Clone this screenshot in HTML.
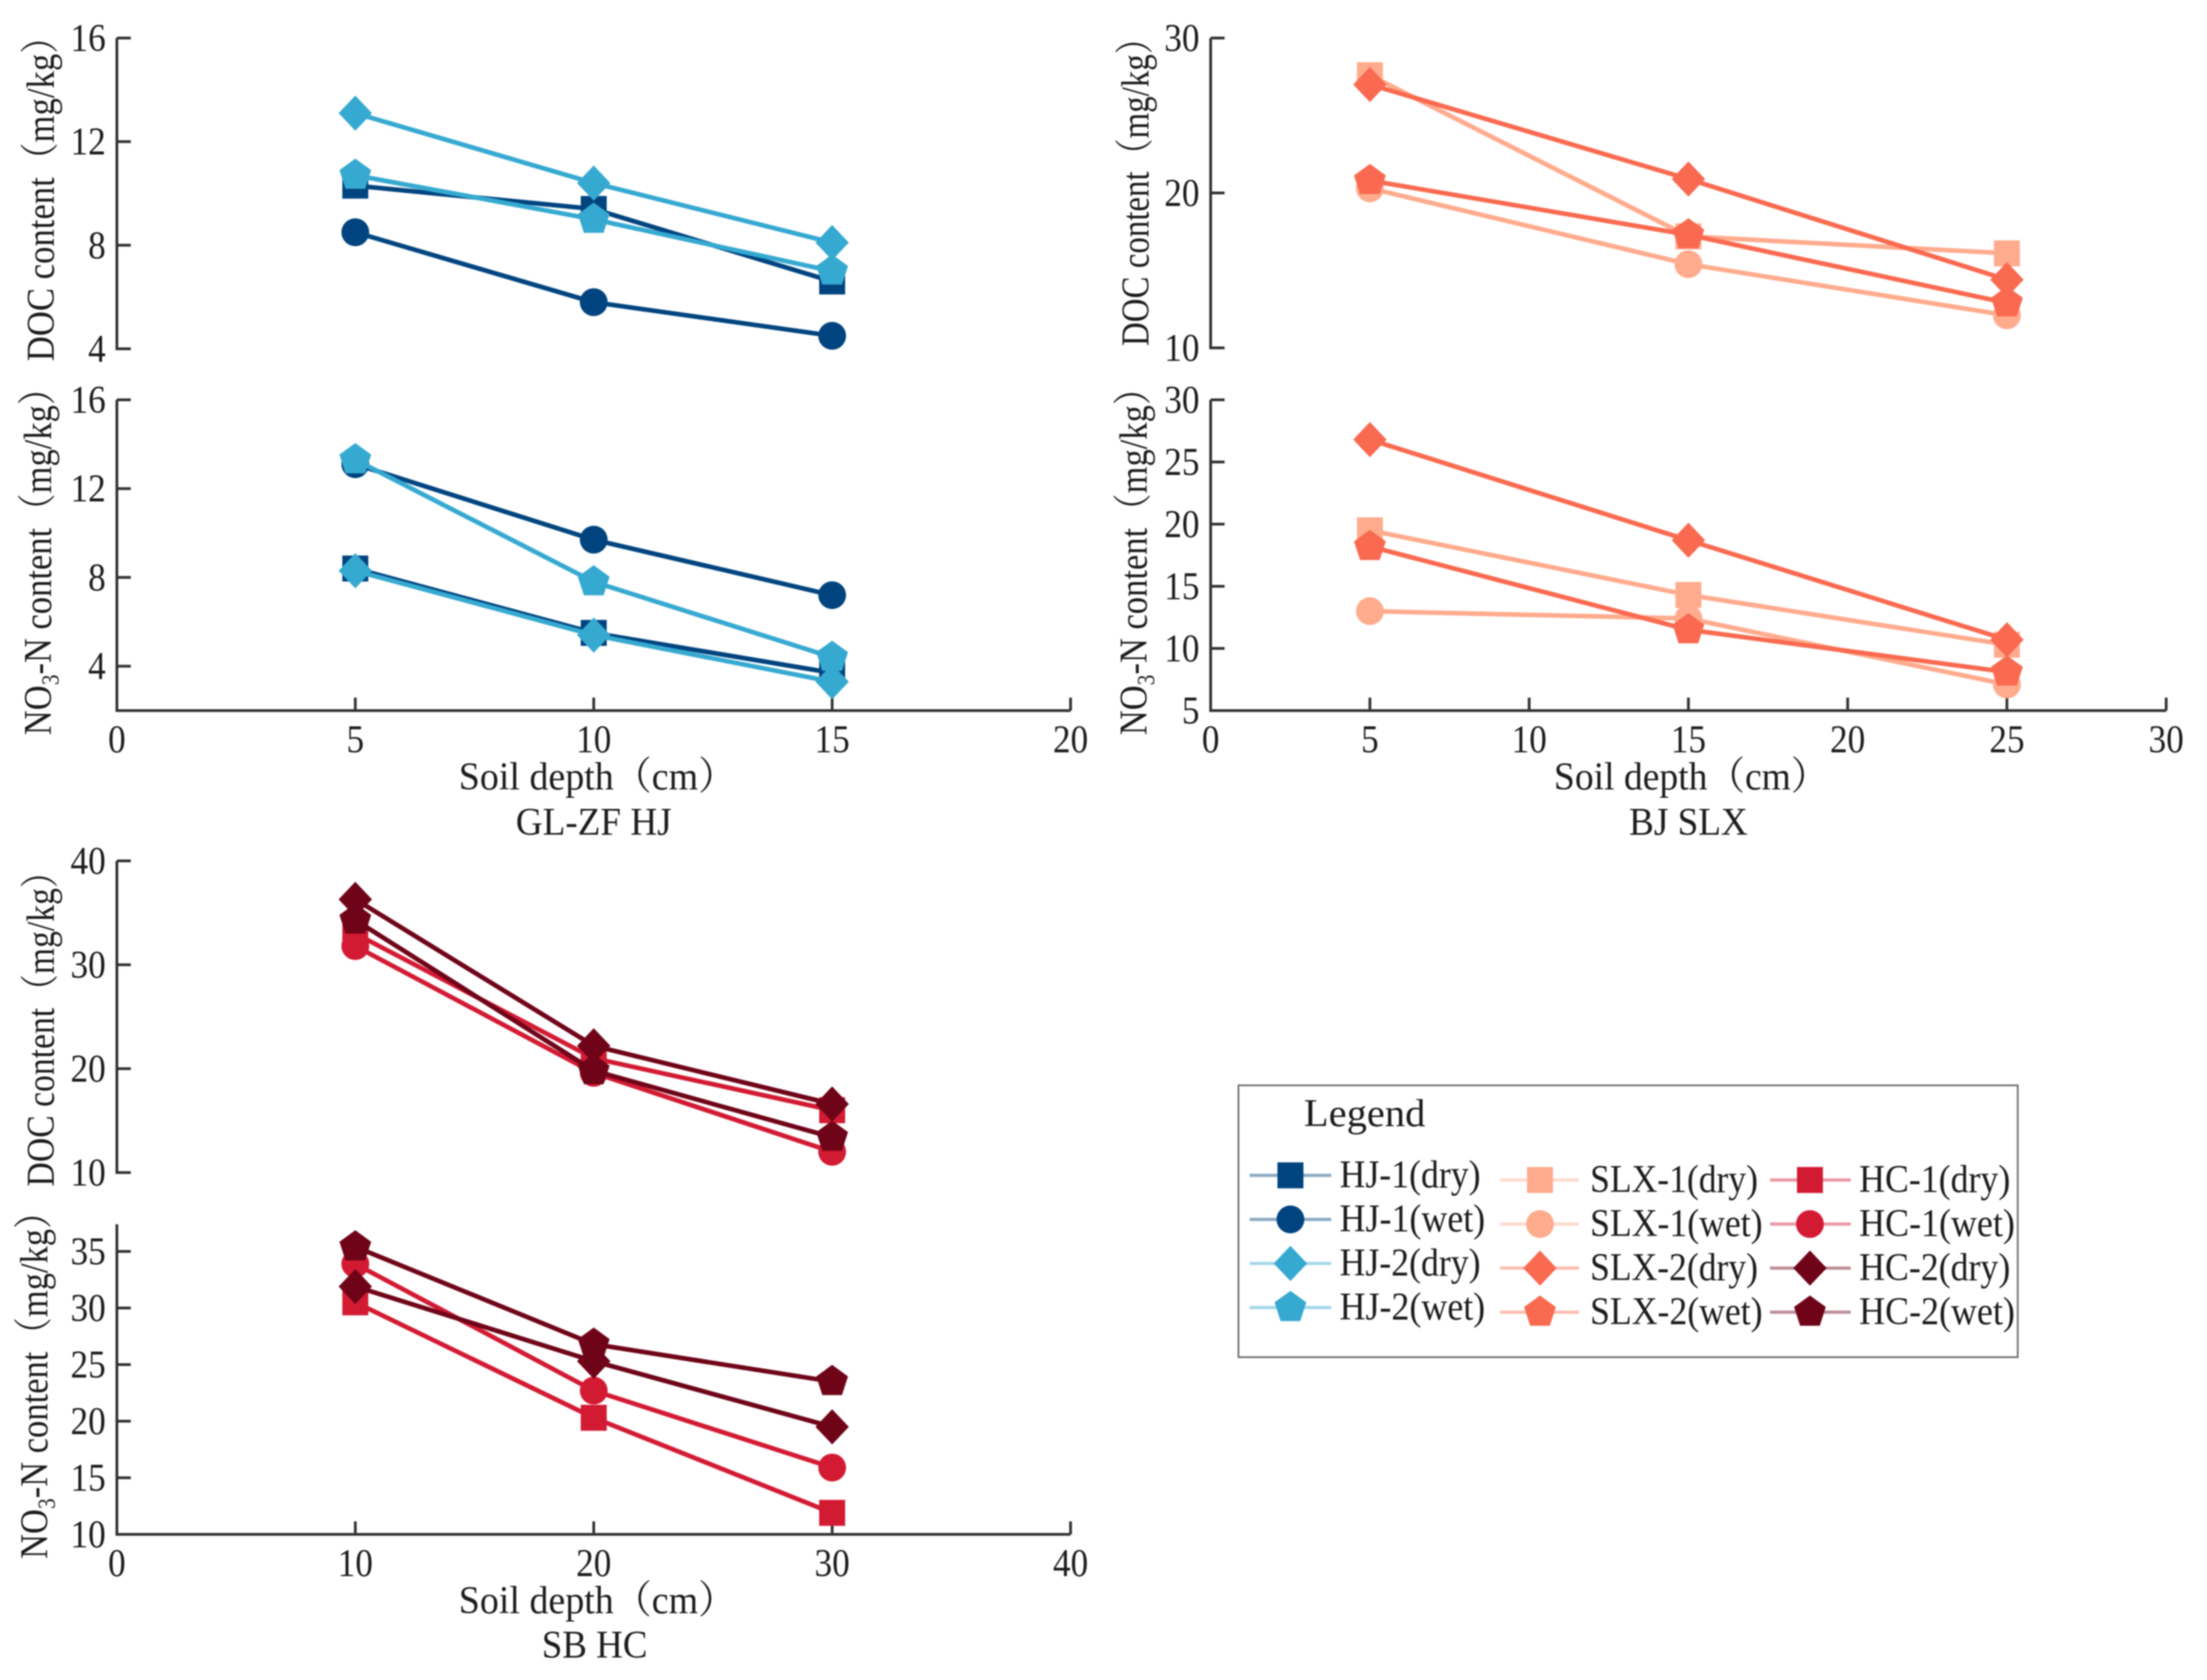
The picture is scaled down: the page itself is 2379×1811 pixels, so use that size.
<!DOCTYPE html>
<html lang="en">
<head>
<meta charset="utf-8">
<title>Soil depth charts</title>
<style>
html,body{margin:0;padding:0;background:#fff;width:2379px;height:1811px;overflow:hidden}
svg{display:block;filter:blur(0.8px)}
text{font-family:"Liberation Serif","Noto Serif CJK SC",serif;fill:#1c1c1c;font-size:42px}
</style>
</head>
<body>
<svg id="chart" xmlns="http://www.w3.org/2000/svg" width="2379" height="1811" viewBox="0 0 2379 1811">
  <rect width="2379" height="1811" fill="#fff"/>
  <g id="marks"></g>

  <text class="fit" data-w="369" data-rot="-90" x="58" y="205" text-anchor="middle">DOC content（mg/kg）</text>
  <text class="fit" data-w="393" data-rot="-90" x="55" y="596" text-anchor="middle">NO<tspan dy="8" font-size="26">3</tspan><tspan dy="-8">-N content（mg/kg）</tspan></text>
  <text class="fit" data-w="299" x="644" y="851" text-anchor="middle">Soil depth（cm）</text>
  <text class="fit" data-w="168" x="640" y="900" text-anchor="middle">GL-ZF HJ</text>

  <text class="fit" data-w="350" data-rot="-90" x="1238" y="198" text-anchor="middle">DOC content（mg/kg）</text>
  <text class="fit" data-w="393" data-rot="-90" x="1236" y="596" text-anchor="middle">NO<tspan dy="8" font-size="26">3</tspan><tspan dy="-8">-N content（mg/kg）</tspan></text>
  <text class="fit" data-w="296" x="1823" y="851" text-anchor="middle">Soil depth（cm）</text>
  <text class="fit" data-w="128" x="1820" y="900" text-anchor="middle">BJ SLX</text>

  <text class="fit" data-w="358" data-rot="-90" x="58" y="1100" text-anchor="middle">DOC content（mg/kg）</text>
  <text class="fit" data-w="393" data-rot="-90" x="51" y="1484" text-anchor="middle">NO<tspan dy="8" font-size="26">3</tspan><tspan dy="-8">-N content（mg/kg）</tspan></text>
  <text class="fit" data-w="299" x="644" y="1739" text-anchor="middle">Soil depth（cm）</text>
  <text class="fit" data-w="114" x="641" y="1787" text-anchor="middle">SB HC</text>

  <g id="legend">
    <rect x="1335" y="1170" width="840" height="293" fill="#fff" stroke="#777" stroke-width="2"/>
    <text class="fit" data-w="131" x="1471" y="1214" text-anchor="middle">Legend</text>
  </g>
</svg>

<script>
// X axis values and tick labels
const glDepths = [5, 10, 15];
const bjDepths = [5, 15, 25];
const sbDepths = [10, 20, 30];
const glXTicks = [0, 5, 10, 15, 20];
const bjXTicks = [0, 5, 10, 15, 20, 25, 30];
const sbXTicks = [0, 10, 20, 30, 40];

// Y tick labels
const glDocTicks = [4, 8, 12, 16];
const glNo3Ticks = [4, 8, 12, 16];
const bjDocTicks = [10, 20, 30];
const bjNo3Ticks = [5, 10, 15, 20, 25, 30];
const sbDocTicks = [10, 20, 30, 40];
const sbNo3Ticks = [10, 15, 20, 25, 30, 35];

// Series values
const hj1DryDoc = [10.3, 9.4, 6.6];
const hj1WetDoc = [8.5, 5.8, 4.5];
const hj2DryDoc = [13.1, 10.4, 8.1];
const hj2WetDoc = [10.7, 9.0, 7.0];
const hj1DryNo3 = [8.4, 5.5, 3.7];
const hj1WetNo3 = [13.1, 9.7, 7.2];
const hj2DryNo3 = [8.3, 5.4, 3.3];
const hj2WetNo3 = [13.3, 7.8, 4.4];

const slx1DryDoc = [27.6, 17.2, 16.1];
const slx1WetDoc = [20.3, 15.4, 12.1];
const slx2DryDoc = [27.0, 20.9, 14.4];
const slx2WetDoc = [20.8, 17.3, 12.9];
const slx1DryNo3 = [19.5, 14.3, 10.3];
const slx1WetNo3 = [13.0, 12.4, 7.1];
const slx2DryNo3 = [26.8, 18.7, 10.7];
const slx2WetNo3 = [18.2, 11.5, 8.1];

const hc1DryDoc = [33.0, 21.0, 16.0];
const hc1WetDoc = [31.8, 19.6, 12.0];
const hc2DryDoc = [36.3, 22.2, 16.6];
const hc2WetDoc = [34.3, 19.8, 13.4];
const hc1DryNo3 = [30.5, 20.3, 11.9];
const hc1WetNo3 = [33.9, 22.7, 15.9];
const hc2DryNo3 = [31.9, 25.3, 19.5];
const hc2WetNo3 = [35.4, 26.8, 23.5];

const legendLabels = [
  ["HJ-1(dry)", "HJ-1(wet)", "HJ-2(dry)", "HJ-2(wet)"],
  ["SLX-1(dry)", "SLX-1(wet)", "SLX-2(dry)", "SLX-2(wet)"],
  ["HC-1(dry)", "HC-1(wet)", "HC-2(dry)", "HC-2(wet)"]
];

const NS = "http://www.w3.org/2000/svg";
const marksLayer = document.getElementById("marks");
const legendLayer = document.getElementById("legend");

function make(tag, attrs, parent) {
  const el = document.createElementNS(NS, tag);
  for (const k in attrs) el.setAttribute(k, attrs[k]);
  parent.appendChild(el);
  return el;
}

function linear(d0, d1, r0, r1) {
  return function (v) { return r0 + (v - d0) / (d1 - d0) * (r1 - r0); };
}

function marker(shape, x, y, color, parent) {
  if (shape === "square") {
    return make("rect", { x: x - 14, y: y - 14, width: 28, height: 28, fill: color }, parent);
  }
  if (shape === "circle") {
    return make("circle", { cx: x, cy: y, r: 15, fill: color }, parent);
  }
  if (shape === "diamond") {
    return make("polygon", { points: [x, y - 19, x + 18, y, x, y + 19, x - 18, y].join(","), fill: color }, parent);
  }
  const r = 18;
  const pts = [];
  for (let i = 0; i < 5; i++) {
    const a = -Math.PI / 2 + i * 2 * Math.PI / 5;
    pts.push((x + r * Math.cos(a)).toFixed(1) + "," + (y + r * Math.sin(a)).toFixed(1));
  }
  return make("polygon", { points: pts.join(" "), fill: color }, parent);
}

const shapes = ["square", "circle", "diamond", "pentagon"];
const groupColors = [
  ["#00447f", "#00447f", "#36a9d1", "#36a9d1"],
  ["#ffab8d", "#ffab8d", "#f96a50", "#f96a50"],
  ["#d31a33", "#d31a33", "#6f0418", "#6f0418"]
];

function tickLabel(str, x, y, anchor, parent) {
  const t = make("text", { x: x, y: y, "text-anchor": anchor, "class": "fit", "data-w": String(str).length * 19 }, parent);
  t.textContent = str;
  return t;
}

function drawPlot(opts) {
  const g = make("g", {}, marksLayer);
  
  
  const sx = linear(opts.xMin, opts.xMax, opts.left, opts.right);
  const sy = linear(opts.yMin, opts.yMax, opts.yMinPx, opts.yMaxPx);

  const yAxis = make("line", { x1: opts.left, x2: opts.left, y1: sy(opts.yMin) + 1.5, y2: sy(opts.yTop), stroke: "#333", "stroke-width": 3 }, g);
  
  

  opts.yTicks.forEach(function (v) {
    const tick = make("line", { x1: opts.left, x2: opts.left + 15, y1: sy(v), y2: sy(v), stroke: "#333", "stroke-width": 3 }, g);
    
    
    const lab = tickLabel(v, opts.left - 12, sy(v) + 14, "end", g);
    
    
  });

  if (opts.xTicks) {
    const xAxis = make("line", { x1: opts.left, x2: opts.right, y1: opts.yMinPx, y2: opts.yMinPx, stroke: "#333", "stroke-width": 3 }, g);
    
    
    opts.xTicks.forEach(function (v) {
      const tick = make("line", { x1: sx(v), x2: sx(v), y1: opts.yMinPx, y2: opts.yMinPx - 14, stroke: "#333", "stroke-width": 3 }, g);
      
      
      const lab = tickLabel(v, sx(v), opts.yMinPx + 45, "middle", g);
      
      
    });
  }

  opts.series.forEach(function (values, i) {
    const color = opts.colors[i];
    const pts = values.map(function (v, j) { return sx(opts.depths[j]).toFixed(1) + "," + sy(v).toFixed(1); });
    const line = make("polyline", { points: pts.join(" "), fill: "none", stroke: color, "stroke-width": 5 }, g);
    
    
    values.forEach(function (v, j) {
      const m = marker(shapes[i], sx(opts.depths[j]), sy(v), color, g);
      
      
    });
  });
}

const hjNames = ["hj-1-dry", "hj-1-wet", "hj-2-dry", "hj-2-wet"];
const slxNames = ["slx-1-dry", "slx-1-wet", "slx-2-dry", "slx-2-wet"];
const hcNames = ["hc-1-dry", "hc-1-wet", "hc-2-dry", "hc-2-wet"];

drawPlot({ name: "gl-doc-plot", left: 126, right: 1154, xMin: 0, xMax: 20, depths: glDepths,
  yMin: 4, yMax: 16, yTop: 16, yMinPx: 376, yMaxPx: 41, yTicks: glDocTicks,
  series: [hj1DryDoc, hj1WetDoc, hj2DryDoc, hj2WetDoc], colors: groupColors[0], seriesNames: hjNames });
drawPlot({ name: "gl-no3-plot", left: 126, right: 1154, xMin: 0, xMax: 20, depths: glDepths, xTicks: glXTicks,
  yMin: 2, yMax: 16, yTop: 16, yMinPx: 766, yMaxPx: 431, yTicks: glNo3Ticks,
  series: [hj1DryNo3, hj1WetNo3, hj2DryNo3, hj2WetNo3], colors: groupColors[0], seriesNames: hjNames });

drawPlot({ name: "bj-doc-plot", left: 1305, right: 2335, xMin: 0, xMax: 30, depths: bjDepths,
  yMin: 10, yMax: 30, yTop: 30, yMinPx: 375, yMaxPx: 41, yTicks: bjDocTicks,
  series: [slx1DryDoc, slx1WetDoc, slx2DryDoc, slx2WetDoc], colors: groupColors[1], seriesNames: slxNames });
drawPlot({ name: "bj-no3-plot", left: 1305, right: 2335, xMin: 0, xMax: 30, depths: bjDepths, xTicks: bjXTicks,
  yMin: 5, yMax: 30, yTop: 30, yMinPx: 766, yMaxPx: 431, yTicks: bjNo3Ticks,
  series: [slx1DryNo3, slx1WetNo3, slx2DryNo3, slx2WetNo3], colors: groupColors[1], seriesNames: slxNames });

drawPlot({ name: "sb-doc-plot", left: 126, right: 1154, xMin: 0, xMax: 40, depths: sbDepths,
  yMin: 10, yMax: 40, yTop: 40, yMinPx: 1264, yMaxPx: 928, yTicks: sbDocTicks,
  series: [hc1DryDoc, hc1WetDoc, hc2DryDoc, hc2WetDoc], colors: groupColors[2], seriesNames: hcNames });
drawPlot({ name: "sb-no3-plot", left: 126, right: 1154, xMin: 0, xMax: 40, depths: sbDepths, xTicks: sbXTicks,
  yMin: 10, yMax: 35, yTop: 37.4, yMinPx: 1654, yMaxPx: 1349, yTicks: sbNo3Ticks,
  series: [hc1DryNo3, hc1WetNo3, hc2DryNo3, hc2WetNo3], colors: groupColors[2], seriesNames: hcNames });

// Legend layout
const legendCols = [
  { mark: 1391, lineL: 1347, lineR: 1435, text: 1444, top: 1267, widths: [152, 157, 152, 157] },
  { mark: 1660, lineL: 1617, lineR: 1702, text: 1714, top: 1272, widths: [181, 186, 181, 186] },
  { mark: 1951, lineL: 1908, lineR: 1995, text: 2004, top: 1272, widths: [163, 168, 163, 168] }
];
legendCols.forEach(function (col, c) {
  legendLabels[c].forEach(function (label, r) {
    const y = col.top + r * 47.5;
    const color = groupColors[c][r];
    const entry = make("g", {}, legendLayer);
    
    
    make("line", { x1: col.lineL, x2: col.lineR, y1: y, y2: y, stroke: color, "stroke-width": 3.5, "stroke-opacity": 0.45 }, entry);
    marker(shapes[r], col.mark, y, color, entry);
    const t = make("text", { x: col.text, y: y + 13, "class": "fit", "data-w": col.widths[r] }, entry);
    t.textContent = label;
  });
});

// Fit text to measured widths (reference text is horizontally condensed)
document.querySelectorAll("text.fit").forEach(function (t) {
  const w = parseFloat(t.getAttribute("data-w"));
  const len = t.getComputedTextLength();
  if (!len) return;
  const x = t.getAttribute("x"), y = t.getAttribute("y");
  const rot = t.getAttribute("data-rot") || 0;
  t.setAttribute("transform", "translate(" + x + " " + y + ") rotate(" + rot + ") scale(" + (w / len).toFixed(4) + " 1) translate(" + (-x) + " " + (-y) + ")");
});
</script>
</body>
</html>
